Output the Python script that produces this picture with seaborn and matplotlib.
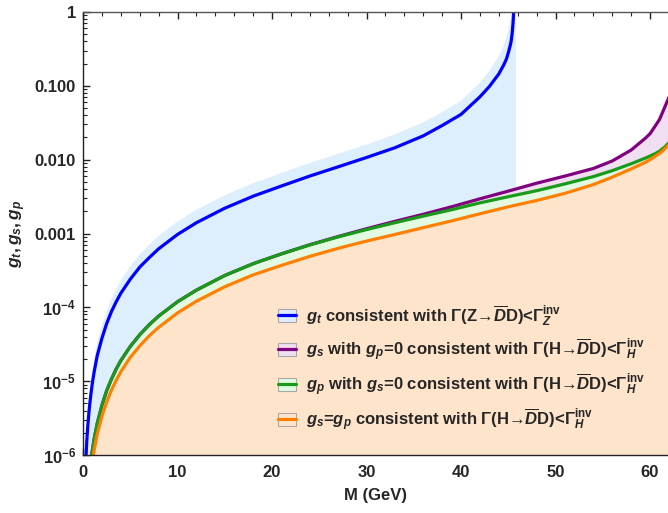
import numpy as np
import pandas as pd
import matplotlib
matplotlib.use("Agg")
import matplotlib.pyplot as plt
import seaborn as sns
from matplotlib.patches import Patch
from matplotlib.lines import Line2D
from matplotlib.ticker import FixedLocator, MultipleLocator, LogLocator, NullFormatter

# ---------------- data ----------------
m_t = [0.3, 0.4, 0.5, 0.6, 0.7, 0.85, 1.0, 1.2, 1.5, 2.0, 2.5, 3.0, 3.5, 4.0, 5.0, 6.0, 7.0,
       8.0, 10, 12, 15, 18, 21, 24, 27, 30, 33, 36, 38, 40, 42, 43, 44, 44.5, 44.8, 45, 45.2,
       45.3, 45.4, 45.5, 45.55, 45.6]
g_t = [8.6e-7, 1.55e-6, 2.4e-6, 3.45e-6, 4.7e-6, 6.9e-6, 9.6e-6, 1.38e-5, 2.2e-5, 3.8e-5,
       6.0e-5, 8.7e-5, 1.18e-4, 1.55e-4, 2.4e-4, 3.5e-4, 4.7e-4, 6.2e-4, 9.7e-4, 1.4e-3,
       2.2e-3, 3.2e-3, 4.4e-3, 6.0e-3, 8.0e-3, 1.07e-2, 1.45e-2, 2.1e-2, 2.9e-2, 4.1e-2,
       7.1e-2, 0.098, 0.145, 0.19, 0.23, 0.28, 0.35, 0.40, 0.5, 0.7, 0.9, 1.2]

m_band = [0.2, 0.3, 0.5, 0.7, 1.0, 1.5, 2.0, 3.0, 4.0, 5.0, 6.0, 8.0, 10, 12, 15, 18, 21, 24,
          27, 30, 33, 36, 38, 40, 42, 43, 44, 44.5, 45, 45.3, 45.5, 45.6, 45.8]
g_t_band = [5.8e-7, 1.3e-6, 3.6e-6, 7.0e-6, 1.45e-5, 3.3e-5, 5.7e-5, 1.3e-4, 2.3e-4, 3.6e-4,
            5.2e-4, 9.3e-4, 1.45e-3, 2.1e-3, 3.3e-3, 4.8e-3, 6.6e-3, 9.0e-3, 1.2e-2, 1.6e-2,
            2.2e-2, 3.2e-2, 4.4e-2, 6.3e-2, 0.11, 0.16, 0.25, 0.34, 0.55, 0.85, 1.5, 2.0, 2.0]

m_h = [0.8, 1.0, 1.2, 1.5, 2.0, 2.5, 3.0, 3.5, 4.0, 5.0, 6.0, 7.0, 8.0, 10, 12, 15, 18, 21,
       24, 27, 30, 33, 36, 39, 42, 45, 48, 51, 54, 56, 58, 59.5, 60, 60.5, 61, 61.3, 61.6, 62]
g_s = [7.6e-7, 1.18e-6, 1.7e-6, 2.65e-6, 4.7e-6, 7.4e-6, 1.06e-5, 1.45e-5, 1.9e-5, 2.95e-5,
       4.25e-5, 5.8e-5, 7.6e-5, 1.19e-4, 1.71e-4, 2.7e-4, 3.9e-4, 5.3e-4, 7.05e-4, 9.1e-4,
       1.16e-3, 1.46e-3, 1.82e-3, 2.3e-3, 2.95e-3, 3.75e-3, 4.8e-3, 6.0e-3, 7.6e-3, 9.6e-3,
       1.35e-2, 1.95e-2, 2.25e-2, 2.8e-2, 3.5e-2, 4.3e-2, 5.3e-2, 7.0e-2]
g_p = [7.6e-7, 1.18e-6, 1.7e-6, 2.65e-6, 4.7e-6, 7.4e-6, 1.06e-5, 1.45e-5, 1.9e-5, 2.95e-5,
       4.25e-5, 5.8e-5, 7.6e-5, 1.19e-4, 1.71e-4, 2.7e-4, 3.9e-4, 5.3e-4, 7.0e-4, 9.0e-4,
       1.13e-3, 1.4e-3, 1.72e-3, 2.1e-3, 2.6e-3, 3.15e-3, 3.8e-3, 4.7e-3, 5.9e-3, 7.1e-3,
       8.8e-3, 1.05e-2, 1.12e-2, 1.2e-2, 1.3e-2, 1.4e-2, 1.5e-2, 1.7e-2]
g_sp = [5.4e-7, 8.4e-7, 1.2e-6, 1.88e-6, 3.35e-6, 5.2e-6, 7.5e-6, 1.02e-5, 1.34e-5, 2.1e-5,
        3.0e-5, 4.1e-5, 5.35e-5, 8.4e-5, 1.21e-4, 1.9e-4, 2.75e-4, 3.7e-4, 4.9e-4, 6.3e-4,
        7.9e-4, 9.7e-4, 1.2e-3, 1.48e-3, 1.85e-3, 2.3e-3, 2.8e-3, 3.5e-3, 4.6e-3, 5.8e-3,
        7.5e-3, 9.2e-3, 1.0e-2, 1.1e-2, 1.22e-2, 1.3e-2, 1.42e-2, 1.6e-2]

x_ticks = [0, 10, 20, 30, 40, 50, 60]
y_ticks = [1e-6, 1e-5, 1e-4, 1e-3, 1e-2, 1e-1, 1]
y_tick_labels = [r'$10^{-6}$', r'$10^{-5}$', r'$10^{-4}$', '0.001', '0.010', '0.100', '1']

legend_labels = [
    r'$g_t$ consistent with Γ(Z→$\overline{D}$D)<$\Gamma_Z^{\mathrm{inv}}$',
    r'$g_s$ with $g_p$=0 consistent with Γ(H→$\overline{D}$D)<$\Gamma_H^{\mathrm{inv}}$',
    r'$g_p$ with $g_s$=0 consistent with Γ(H→$\overline{D}$D)<$\Gamma_H^{\mathrm{inv}}$',
    r'$g_s$=$g_p$ consistent with Γ(H→$\overline{D}$D)<$\Gamma_H^{\mathrm{inv}}$',
]

# ---------------- style ----------------
sns.set_style("ticks")
plt.rcParams['font.family'] = ['Liberation Sans', 'DejaVu Sans']
plt.rcParams['font.weight'] = 'bold'
plt.rcParams['mathtext.fontset'] = 'custom'
plt.rcParams['mathtext.rm'] = 'Liberation Sans:bold'
plt.rcParams['mathtext.it'] = 'Liberation Sans:bold:italic'
plt.rcParams['mathtext.bf'] = 'Liberation Sans:bold'
plt.rcParams['mathtext.sf'] = 'Liberation Sans:bold'

line_cols = ['#0000FF', '#800080', '#1A9A1A', '#FF8000']
fill_cols = ['#DDEEFD', '#EFDFF0', '#E2F9E2', '#FFE4CC']

fig = plt.figure(figsize=(6.68, 5.13), dpi=100)
ax = fig.add_axes([83/668, 1 - 455/513, 1 - 83/668, (455 - 12)/513])

bottom = 1e-8
ax.fill_between(m_band, bottom, g_t_band, color=fill_cols[0], lw=0)
ax.fill_between(m_h, bottom, g_s, color=fill_cols[1], lw=0)
ax.fill_between(m_h, bottom, g_p, color=fill_cols[2], lw=0)
ax.fill_between(m_h, bottom, g_sp, color=fill_cols[3], lw=0)

df_t = pd.DataFrame({'M': m_t, 'g': g_t})
df_h = pd.DataFrame({'M': m_h, 'gs': g_s, 'gp': g_p, 'gsp': g_sp})
kw = dict(lw=2.3, ax=ax, estimator=None)
sns.lineplot(data=df_t, x='M', y='g', color=line_cols[0], **kw)
sns.lineplot(data=df_h, x='M', y='gs', color=line_cols[1], **kw)
sns.lineplot(data=df_h, x='M', y='gp', color=line_cols[2], **kw)
sns.lineplot(data=df_h, x='M', y='gsp', color=line_cols[3], **kw)

ax.set_yscale('log')
ax.set_xlim(0, 61.9)
ax.set_ylim(1e-6, 1)

ax.xaxis.set_major_locator(FixedLocator(x_ticks))
ax.xaxis.set_minor_locator(MultipleLocator(2))
ax.yaxis.set_major_locator(FixedLocator(y_ticks))
ax.set_yticklabels(y_tick_labels)
ax.yaxis.set_minor_locator(LogLocator(base=10, subs=range(2, 10), numticks=20))
ax.yaxis.set_minor_formatter(NullFormatter())

for s in ['left', 'bottom', 'top']:
    ax.spines[s].set_visible(True)
    ax.spines[s].set_color('#222222')
    ax.spines[s].set_linewidth(1.0)
ax.spines['top'].set_color('#555555')
ax.spines['right'].set_visible(False)

ax.tick_params(which='both', direction='in', top=True, right=False, color='#222222')
ax.tick_params(which='major', length=5, width=1.0, labelsize=12)
ax.tick_params(axis='x', which='major', pad=7)
ax.tick_params(axis='y', which='major', pad=5)
ax.tick_params(which='minor', length=2.8, width=0.8)
for lab in ax.get_xticklabels() + ax.get_yticklabels():
    lab.set_fontweight('bold')

ax.set_xlabel('M (GeV)', fontsize=12, fontweight='bold', labelpad=6)
ax.set_ylabel(r'$g_t,g_s,g_p$', fontsize=12.5, labelpad=5)

handles = []
for lc, fc in zip(line_cols, fill_cols):
    handles.append((Patch(facecolor=fc, edgecolor='#A8A8A8', lw=0.8),
                    Line2D([], [], color=lc, lw=2.3)))
leg = ax.legend(handles, legend_labels, loc='center left',
                bbox_to_anchor=((278 - 83) / 585, (455 - 368) / 443),
                frameon=False, prop={'weight': 'bold', 'size': 12},
                handlelength=1.1, handleheight=0.8, handletextpad=0.6,
                labelspacing=0.5, borderpad=0, borderaxespad=0)

fig.savefig('out.png', dpi=100)
